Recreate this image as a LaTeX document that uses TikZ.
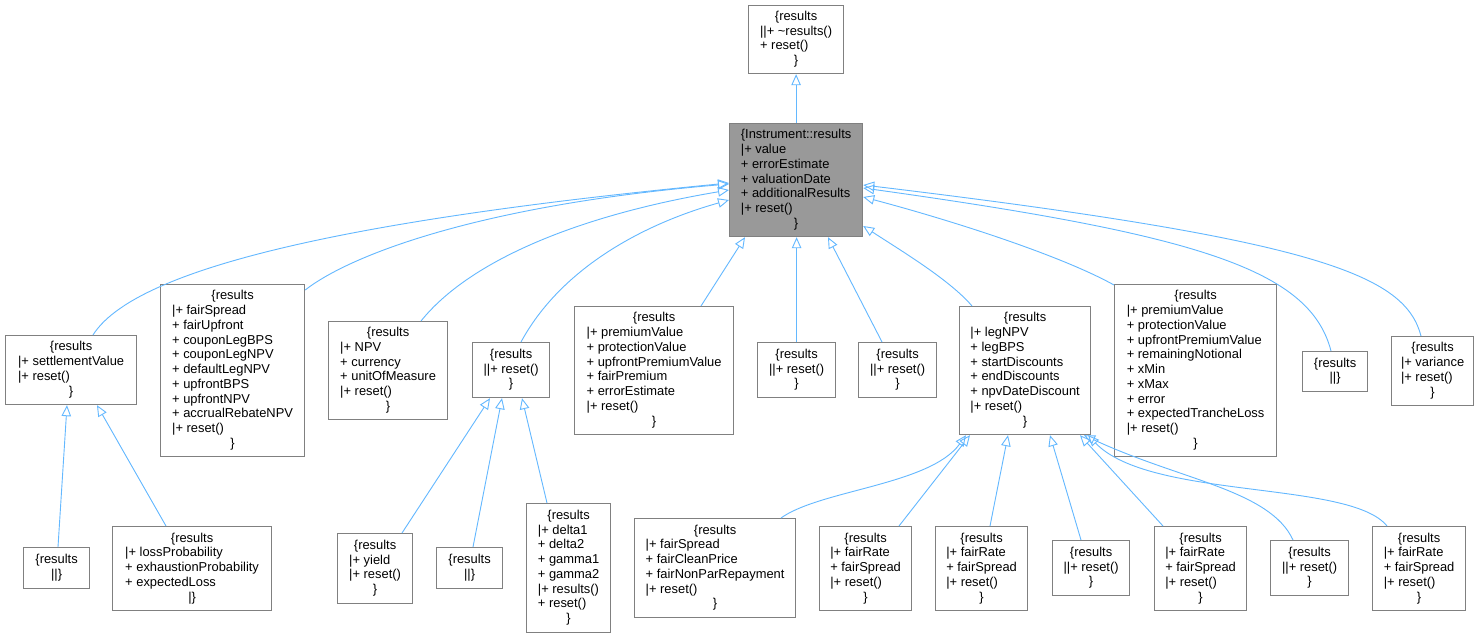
\documentclass[tikz,border=0pt]{standalone}
\usepackage{fontspec}
\setmainfont{Liberation Sans}
\usetikzlibrary{arrows.meta}
\definecolor{edgec}{HTML}{63B8FF}
\definecolor{boxc}{HTML}{808080}
\definecolor{mainf}{HTML}{999999}
\newcommand\hd[1]{\multicolumn{1}{@{}c@{}}{#1}}
\newcommand\rb{\hd{\{results}}
\newcommand\cb{\hd{\}}}
\newcommand\rec[1]{\begin{tabular}{@{}l@{}}#1\end{tabular}}
\tikzset{
  cls/.style={draw=boxc, line width=1.2pt, fill=white, inner sep=0pt, anchor=north west,
    font=\fontsize{12.9}{14.76}\selectfont},
  inh/.style={draw=edgec, line width=0.9pt, -{Triangle[open, length=11pt, width=9.5pt]}}
}
\begin{document}
\begin{tikzpicture}[x=1pt, y=-1pt]
\useasboundingbox (0,0) rectangle (1479,637);
\fill[white] (0,0) rectangle (1479,637);

% top and main
\node[cls, minimum width=95pt, minimum height=68pt] (top) at (748,5)
  {\rec{\rb\\||+ \textasciitilde results()\\+ reset()\\\cb}};
\node[cls, fill=mainf, minimum width=133pt, minimum height=113pt] (main) at (729,123)
  {\rec{\hd{\{Instrument::results}\\|+ value\\+ errorEstimate\\+ valuationDate\\+ additionalResults\\|+ reset()\\\cb}};

% row 2
\node[cls, minimum width=131pt, minimum height=69pt] (A) at (5,335)
  {\rec{\rb\\|+ settlementValue\\|+ reset()\\\cb}};
\node[cls, minimum width=144pt, minimum height=172pt] (B) at (160,284)
  {\rec{\rb\\|+ fairSpread\\+ fairUpfront\\+ couponLegBPS\\+ couponLegNPV\\+ defaultLegNPV\\+ upfrontBPS\\+ upfrontNPV\\+ accrualRebateNPV\\|+ reset()\\\cb}};
\node[cls, minimum width=119pt, minimum height=98pt] (C) at (328,321)
  {\rec{\rb\\|+ NPV\\+ currency\\+ unitOfMeasure\\|+ reset()\\\cb}};
\node[cls, minimum width=77pt, minimum height=55pt] (D) at (472,342)
  {\rec{\rb\\||+ reset()\\\cb}};
\node[cls, minimum width=159pt, minimum height=128pt] (E) at (574,306)
  {\rec{\rb\\|+ premiumValue\\+ protectionValue\\+ upfrontPremiumValue\\+ fairPremium\\+ errorEstimate\\|+ reset()\\\cb}};
\node[cls, minimum width=78pt, minimum height=55pt] (F) at (757,342)
  {\rec{\rb\\||+ reset()\\\cb}};
\node[cls, minimum width=78pt, minimum height=55pt] (G) at (858,342)
  {\rec{\rb\\||+ reset()\\\cb}};
\node[cls, minimum width=131pt, minimum height=128pt] (H) at (959,306)
  {\rec{\rb\\|+ legNPV\\+ legBPS\\+ startDiscounts\\+ endDiscounts\\+ npvDateDiscount\\|+ reset()\\\cb}};
\node[cls, minimum width=162pt, minimum height=172pt] (I) at (1114,284)
  {\rec{\rb\\|+ premiumValue\\+ protectionValue\\+ upfrontPremiumValue\\+ remainingNotional\\+ xMin\\+ xMax\\+ error\\+ expectedTrancheLoss\\|+ reset()\\\cb}};
\node[cls, minimum width=65pt, minimum height=40pt] (J) at (1302,351)
  {\rec{\rb\\\hd{||\}}}};
\node[cls, minimum width=82pt, minimum height=69pt] (K) at (1391,336)
  {\rec{\rb\\|+ variance\\|+ reset()\\\cb}};

% row 3
\node[cls, minimum width=66pt, minimum height=41pt] (L) at (23,547)
  {\rec{\rb\\\hd{||\}}}};
\node[cls, minimum width=159pt, minimum height=84pt] (M) at (112,526)
  {\rec{\rb\\|+ lossProbability\\+ exhaustionProbability\\+ expectedLoss\\\hd{|\}}}};
\node[cls, minimum width=75pt, minimum height=70pt] (N) at (337,533)
  {\rec{\rb\\|+ yield\\|+ reset()\\\cb}};
\node[cls, minimum width=66pt, minimum height=41pt] (O) at (436,547)
  {\rec{\rb\\\hd{||\}}}};
\node[cls, minimum width=84pt, minimum height=129pt] (P) at (526,503)
  {\rec{\rb\\|+ delta1\\+ delta2\\+ gamma1\\+ gamma2\\|+ results()\\+ reset()\\\cb}};
\node[cls, minimum width=161pt, minimum height=99pt] (Q) at (634,518)
  {\rec{\rb\\|+ fairSpread\\+ fairCleanPrice\\+ fairNonParRepayment\\|+ reset()\\\cb}};
\node[cls, minimum width=92pt, minimum height=84pt] (R) at (819,526)
  {\rec{\rb\\|+ fairRate\\+ fairSpread\\|+ reset()\\\cb}};
\node[cls, minimum width=92pt, minimum height=84pt] (S) at (935,526)
  {\rec{\rb\\|+ fairRate\\+ fairSpread\\|+ reset()\\\cb}};
\node[cls, minimum width=77pt, minimum height=55pt] (T) at (1052,540)
  {\rec{\rb\\||+ reset()\\\cb}};
\node[cls, minimum width=92pt, minimum height=84pt] (U) at (1154,526)
  {\rec{\rb\\|+ fairRate\\+ fairSpread\\|+ reset()\\\cb}};
\node[cls, minimum width=78pt, minimum height=55pt] (V) at (1270,540)
  {\rec{\rb\\||+ reset()\\\cb}};
\node[cls, minimum width=93pt, minimum height=84pt] (W) at (1372,526)
  {\rec{\rb\\|+ fairRate\\+ fairSpread\\|+ reset()\\\cb}};

% edges to top
\draw[inh] (main.north) -- (top.south);

% edges to main
\draw[inh] ([xshift=88pt]A.north west) .. controls (140,260) and (400,215) .. ([yshift=-60pt]main.north west);
\draw[inh] ([yshift=-6pt]B.north east) .. controls (350,255) and (480,205) .. ([yshift=-61pt]main.north west);
\draw[inh] ([xshift=93pt]C.north west) .. controls (470,260) and (580,215) .. ([yshift=-67pt]main.north west);
\draw[inh] ([xshift=49pt]D.north west) .. controls (560,270) and (640,225) .. ([yshift=-77pt]main.north west);
\draw[inh] ([xshift=127pt]E.north west) -- ([xshift=16pt]main.south west);
\draw[inh] (F.north) -- (F.north |- main.south);
\draw[inh] ([xshift=24pt]G.north west) -- ([xshift=99pt]main.south west);
\draw[inh] ([xshift=13pt]H.north west) .. controls (950,280) and (900,250) .. ([yshift=-103pt]main.north east);
\draw[inh] ([yshift=-1pt]I.north west) .. controls (1060,255) and (950,220) .. ([yshift=-74pt]main.north east);
\draw[inh] ([xshift=29pt]J.north west) .. controls (1310,270) and (1200,235) .. ([yshift=-65pt]main.north east);
\draw[inh] ([xshift=30pt]K.north west) .. controls (1405,275) and (1320,240) .. ([yshift=-62pt]main.north east);

% edges to A
\draw[inh] ([xshift=35pt]L.north west) -- ([xshift=62pt]A.south west);
\draw[inh] ([xshift=54pt]M.north west) -- ([xshift=92pt]A.south west);

% edges to D
\draw[inh] ([xshift=65pt]N.north west) -- ([xshift=18pt]D.south west);
\draw[inh] ([xshift=37pt]O.north west) -- ([xshift=30pt]D.south west);
\draw[inh] ([xshift=21pt]P.north west) -- ([xshift=50pt]D.south west);

% edges to H
\draw[inh] ([xshift=147pt]Q.north west) .. controls (820,490) and (930,485) .. ([xshift=7pt]H.south west);
\draw[inh] ([xshift=80pt]R.north west) -- ([xshift=11pt]H.south west);
\draw[inh] ([xshift=55pt]S.north west) -- ([xshift=49pt]H.south west);
\draw[inh] ([xshift=29pt]T.north west) -- ([xshift=91pt]H.south west);
\draw[inh] ([xshift=9pt]U.north west) -- ([xshift=121pt]H.south west);
\draw[inh] ([xshift=23pt]V.north west) .. controls (1270,490) and (1180,480) .. ([xshift=125pt]H.south west);
\draw[inh] ([xshift=15pt]W.north west) .. controls (1350,480) and (1150,500) .. ([xshift=129pt]H.south west);
\end{tikzpicture}
\end{document}
